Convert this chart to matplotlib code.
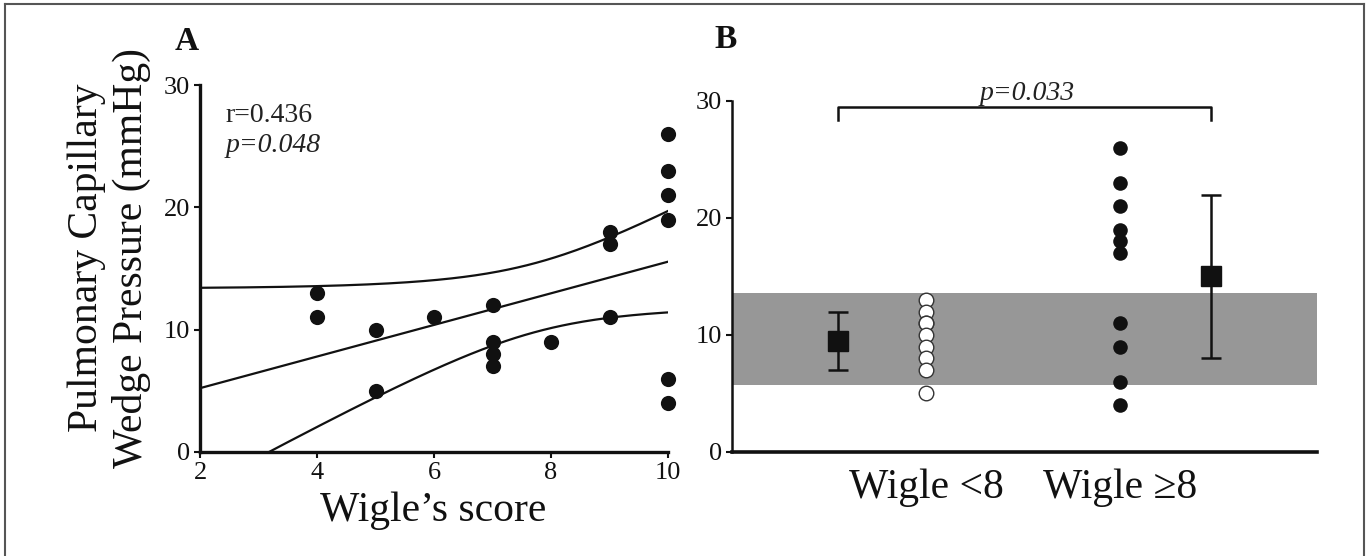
import numpy as np
import matplotlib
matplotlib.use("Agg")
import matplotlib.pyplot as plt
from matplotlib.lines import Line2D

plt.rcParams['font.family'] = ['Liberation Serif', 'DejaVu Serif']

# ---------------- data ----------------
# Panel A
wigle_score = [4, 4, 5, 5, 6, 7, 7, 7, 7, 8, 9, 9, 9, 10, 10, 10, 10, 10, 10]
pcwp = [13, 11, 10, 5, 11, 12, 9, 8, 7, 9, 18, 17, 11, 26, 23, 21, 19, 6, 4]
a_xticks = [2, 4, 6, 8, 10]
yticks = [0, 10, 20, 30]
r_text = "r=0.436"
p_text_a = "p=0.048"

# Panel B
group_labels = ["Wigle <8", "Wigle \u22658"]
pcwp_low = [13, 12, 11, 11, 10, 9, 8, 7, 5]
pcwp_high = [26, 23, 21, 19, 18, 17, 11, 9, 6, 4]
group_means = [9.5, 15.0]
group_sd = [2.5, 7.0]
normal_range = [5.7, 13.6]
p_text_b = "p=0.033"

# ---------------- figure ----------------
fig = plt.figure(figsize=(13.7, 5.56), dpi=100)

# outer frame (left, top, right)
frame_kw = dict(color='#555555', lw=1.5, transform=fig.transFigure)
fig.add_artist(Line2D([0.0037, 0.0037], [0.0, 0.9928], **frame_kw))
fig.add_artist(Line2D([0.0037, 0.9956], [0.9928, 0.9928], **frame_kw))
fig.add_artist(Line2D([0.9956, 0.9956], [0.0, 0.9928], **frame_kw))

ink = '#111111'

# ---------------- panel A ----------------
axA = fig.add_axes([0.1460, 0.1871, 0.3416, 0.66])
xa = np.array(wigle_score, dtype=float)
ya = np.array(pcwp, dtype=float)
axA.scatter(xa, ya, s=120, color=ink, clip_on=False, zorder=3, linewidths=0)

# linear regression with 95% confidence band
slope, intercept = np.polyfit(xa, ya, 1)
n = len(xa)
resid = ya - (slope * xa + intercept)
s_err = np.sqrt(np.sum(resid ** 2) / (n - 2))
sxx = np.sum((xa - xa.mean()) ** 2)
t_crit = 2.11
xx = np.linspace(2, 10, 200)
yy = slope * xx + intercept
hw = t_crit * s_err * np.sqrt(1.0 / n + (xx - xa.mean()) ** 2 / sxx)
for curve in (yy, yy + hw, yy - hw):
    axA.plot(xx, curve, color=ink, lw=1.6, zorder=2)

axA.set_xlim(2, 10)
axA.set_ylim(0, 30)
axA.set_xticks(a_xticks)
axA.set_yticks(yticks)
for side in ('top', 'right'):
    axA.spines[side].set_visible(False)
for side in ('left', 'bottom'):
    axA.spines[side].set_linewidth(2.4)
    axA.spines[side].set_color(ink)
axA.tick_params(direction='out', length=4, width=1.5, labelsize=19, pad=3, colors=ink)

axA.text(2.43, 27.0, r_text, fontsize=20, color='#222222', ha='left', va='baseline')
axA.text(2.43, 24.5, p_text_a, fontsize=20, style='italic', color='#222222',
         ha='left', va='baseline')

fig.text(433 / 1370, 1 - 521 / 556, "Wigle\u2019s score", fontsize=30, ha='center',
         va='baseline', color=ink)
fig.text(109 / 1370, 0.536, "Pulmonary Capillary\nWedge Pressure (mmHg)", fontsize=30,
         rotation=90, ha='center', va='center', multialignment='center',
         linespacing=1.2, color=ink)
fig.text(187 / 1370, 1 - 50 / 556, "A", fontsize=24, weight='bold', ha='center',
         va='baseline', color=ink)

# ---------------- panel B ----------------
axB = fig.add_axes([0.5343, 0.1871, 0.4270, 0.6313])
axB.set_xlim(0, 10)
axB.set_ylim(0, 30)
pos_mean = [1.81, 8.19]
pos_pts = [3.32, 6.63]

axB.axhspan(normal_range[0], normal_range[1], color='#979797', lw=0, zorder=0)
axB.scatter([pos_pts[0]] * len(pcwp_low), pcwp_low, s=110, facecolor='white',
            edgecolor='#333333', linewidths=1.0, zorder=3)
axB.scatter([pos_pts[1]] * len(pcwp_high), pcwp_high, s=110, color=ink,
            linewidths=0, zorder=3)
axB.errorbar(pos_mean, group_means, yerr=group_sd, fmt='s', ms=14, color=ink,
             ecolor=ink, elinewidth=1.8, capsize=7, capthick=1.8, zorder=4)

# significance bracket
axB.plot([pos_mean[0], pos_mean[0], pos_mean[1], pos_mean[1]],
         [28.4, 29.45, 29.45, 28.4], color=ink, lw=1.8, clip_on=False)
axB.text(5.04, 30.1, p_text_b, fontsize=20, style='italic', color='#222222',
         ha='center', va='baseline', clip_on=False)

axB.set_yticks(yticks)
axB.set_xticks(pos_pts)
axB.set_xticklabels(group_labels, fontsize=30)
axB.set_xticks([pos_pts[1]], minor=True)
axB.tick_params(axis='x', which='major', length=0, pad=12, colors=ink)
axB.tick_params(axis='x', which='minor', length=3, width=1, colors='#777777')
axB.tick_params(axis='y', direction='out', length=4, width=1.5, labelsize=19,
                pad=3, colors=ink)
for side in ('top', 'right'):
    axB.spines[side].set_visible(False)
axB.spines['left'].set_linewidth(1.8)
axB.spines['bottom'].set_linewidth(2.6)
for side in ('left', 'bottom'):
    axB.spines[side].set_color(ink)

fig.text(726 / 1370, 1 - 48 / 556, "B", fontsize=24, weight='bold', ha='center',
         va='baseline', color=ink)

fig.savefig('out.png', dpi=100)
